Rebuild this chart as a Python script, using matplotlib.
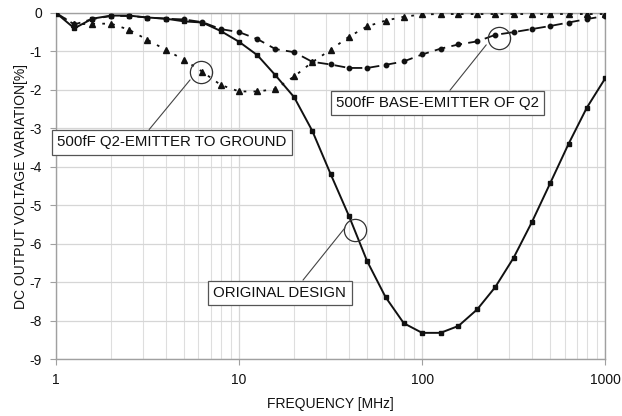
import matplotlib
matplotlib.use("Agg")
import matplotlib.pyplot as plt
from matplotlib.ticker import FixedLocator, NullFormatter

# frequency points, 10 per decade from 1 to 1000 MHz
freq = [1, 1.26, 1.58, 2, 2.51, 3.16, 3.98, 5.01, 6.31, 7.94,
        10, 12.6, 15.8, 20, 25.1, 31.6, 39.8, 50.1, 63.1, 79.4,
        100, 126, 158, 200, 251, 316, 398, 501, 631, 794, 1000]

original = [0, -0.4, -0.15, -0.07, -0.07, -0.12, -0.15, -0.22, -0.25, -0.47,
            -0.75, -1.1, -1.62, -2.19, -3.06, -4.18, -5.27, -6.45, -7.38, -8.06,
            -8.31, -8.31, -8.13, -7.7, -7.12, -6.36, -5.43, -4.42, -3.4, -2.46, -1.7]

base_emitter = [0, -0.3, -0.16, -0.08, -0.08, -0.12, -0.15, -0.17, -0.24, -0.42,
                -0.5, -0.68, -0.94, -1.02, -1.27, -1.34, -1.43, -1.43, -1.35, -1.26,
                -1.08, -0.93, -0.82, -0.74, -0.57, -0.5, -0.42, -0.34, -0.25, -0.16, -0.08]

q2_ground = [0, -0.3, -0.28, -0.28, -0.44, -0.7, -0.96, -1.22, -1.53, -1.87,
             -2.04, -2.04, -1.98, -1.65, -1.28, -0.96, -0.62, -0.35, -0.2, -0.1,
             -0.04, -0.03, -0.03, -0.03, -0.03, -0.03, -0.03, -0.03, -0.03, -0.03, -0.03]

plt.rcParams['font.family'] = ['Liberation Sans', 'DejaVu Sans']

fig = plt.figure(figsize=(6.22, 4.16), dpi=100)
ax = fig.add_axes([0.090, 0.136, 0.883, 0.833])

ink = '#111111'
ax.plot(freq, original, '-', color=ink, lw=1.4, marker='s', ms=3.2, zorder=4)
ax.plot(freq, base_emitter, color=ink, lw=1.3, dashes=(6, 3.5), marker='o', ms=3.2, zorder=4)
ax.plot(freq, q2_ground, color=ink, lw=1.3, dashes=(1.5, 4), marker='^', ms=4.2, zorder=4)

ax.set_xscale('log')
ax.set_xlim(1, 1000)
ax.set_ylim(-9, 0)
ax.set_yticks(range(-9, 1))
ax.set_yticklabels([str(v) for v in range(-9, 1)])
ax.set_xticks([1, 10, 100, 1000])
ax.set_xticklabels(['1', '10', '100', '1000'])
ax.xaxis.set_minor_locator(FixedLocator([m * 10 ** d for d in range(3) for m in range(2, 10)]))
ax.xaxis.set_minor_formatter(NullFormatter())

ax.grid(True, which='major', color='#d6d6d6', lw=0.9)
ax.grid(True, which='minor', axis='x', color='#dedede', lw=0.8)
ax.set_axisbelow(True)
for s in ax.spines.values():
    s.set_color('#a0a0a0')
    s.set_linewidth(1.0)
ax.tick_params(which='major', length=4, color='#a0a0a0', labelsize=10, labelcolor=ink, pad=6)
ax.tick_params(which='minor', length=0)

ax.set_xlabel('FREQUENCY [MHz]', fontsize=10, color=ink, labelpad=7)
ax.set_ylabel('DC OUTPUT VOLTAGE VARIATION[%]', fontsize=10, color=ink, labelpad=1)

# circles around the marked points
for cx, cy in [(6.2, -1.53), (263, -0.65), (43, -5.64)]:
    ax.plot(cx, cy, 'o', ms=16, mfc='none', mec='#333333', mew=0.9, zorder=5)

box = dict(boxstyle='square,pad=0.35', fc='white', ec='#555555', lw=0.9)
notes = [('500fF Q2-EMITTER TO GROUND', (5.4, -1.74), (4.3, -3.36), 0.38),
         ('500fF BASE-EMITTER OF Q2', (224, -0.83), (121, -2.34), 0.54),
         ('ORIGINAL DESIGN', (37.9, -5.58), (16.7, -7.27), 0.64)]
for txt, xy, xyt, rp in notes:
    ax.annotate(txt, xy=xy, xytext=xyt, ha='center', va='center', fontsize=10.8,
                color=ink, bbox=box, zorder=6,
                arrowprops=dict(arrowstyle='-', color='#444444', lw=0.8,
                                relpos=(rp, 1.0), shrinkA=0, shrinkB=0))

fig.savefig('out.png', dpi=100)
